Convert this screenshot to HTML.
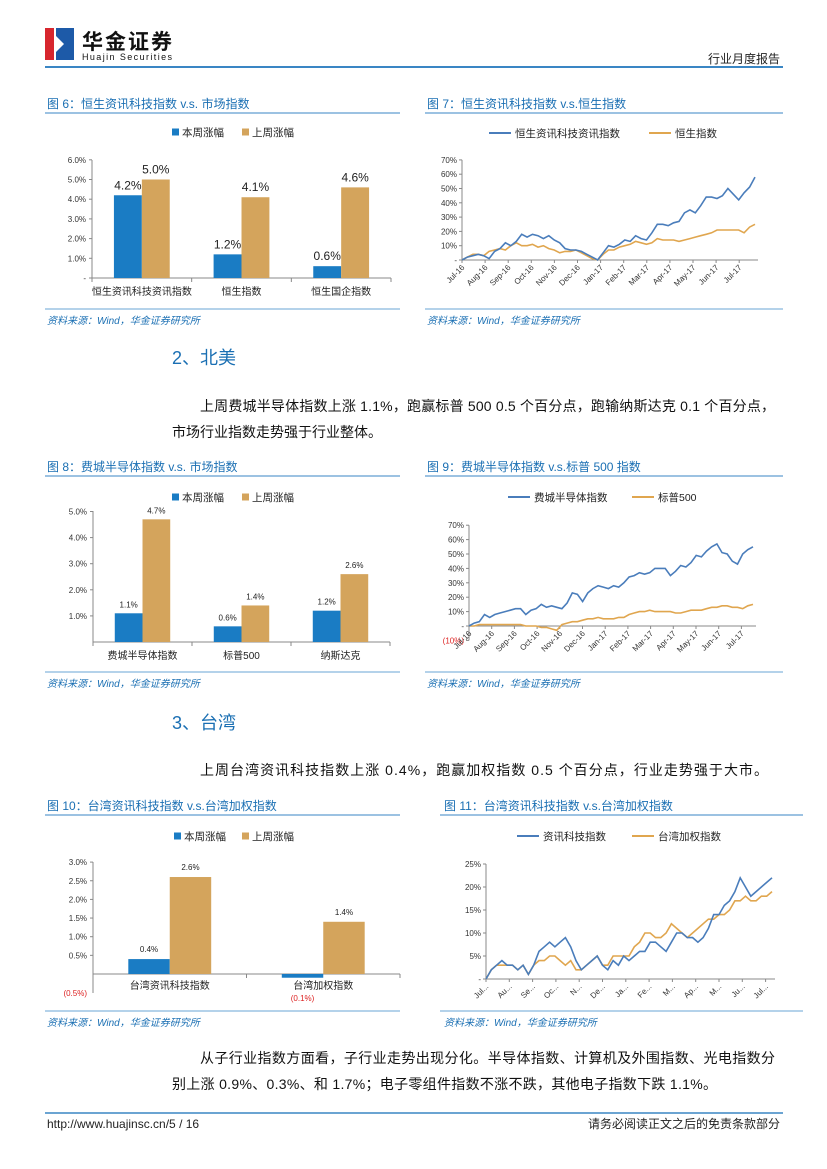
<!DOCTYPE html>
<html><head><meta charset="utf-8">
<style>
html,body{margin:0;padding:0;background:#fff;}
svg{display:block;font-family:"Liberation Sans","Noto Sans CJK SC",sans-serif;}
.ttl{fill:#1a6fb3;font-size:12px;}
.src{fill:#1a6fb3;font-size:10px;font-style:italic;}
.tk{fill:#333;font-size:8px;}
.body{fill:#111;font-size:14px;}
.h2{fill:#1a6fb3;font-size:18px;}
</style></head>
<body>
<svg id="pg" width="827" height="1169" viewBox="0 0 827 1169" xmlns="http://www.w3.org/2000/svg">
<g>
  <rect x="45" y="28" width="9" height="32" fill="#d7262e"/>
  <rect x="56" y="28" width="18" height="32" fill="#1d5aa8"/>
  <path d="M56 36 L64 44 L56 52 Z" fill="#fff"/>
  <text x="82" y="49" font-size="21" font-weight="bold" fill="#111" textLength="90">华金证券</text>
  <text x="82" y="60" font-size="9" fill="#111" textLength="90">Huajin Securities</text>
  <text x="780" y="63" font-size="12" fill="#222" text-anchor="end">行业月度报告</text>
  <rect x="45" y="66" width="738" height="2" fill="#3a86c4"/>
</g>

<text class="ttl" x="47" y="108">图 6：恒生资讯科技指数 v.s. 市场指数</text>
<line x1="45" y1="113" x2="400" y2="113" stroke="#3a86c4"/>
<text class="ttl" x="427" y="108">图 7：恒生资讯科技指数 v.s.恒生指数</text>
<line x1="425" y1="113" x2="783" y2="113" stroke="#3a86c4"/>
<line x1="45" y1="309" x2="400" y2="309" stroke="#6aa6d6"/>
<line x1="425" y1="309" x2="783" y2="309" stroke="#6aa6d6"/>
<text class="src" x="47" y="324">资料来源：Wind，华金证券研究所</text>
<text class="src" x="427" y="324">资料来源：Wind，华金证券研究所</text>

<text class="h2" x="172" y="364">2、北美</text>
<text class="body" x="200" y="411" textLength="575">上周费城半导体指数上涨 1.1%，跑赢标普 500 0.5 个百分点，跑输纳斯达克 0.1 个百分点，</text>
<text class="body" x="172" y="437">市场行业指数走势强于行业整体。</text>

<text class="ttl" x="47" y="471">图 8：费城半导体指数  v.s. 市场指数</text>
<line x1="45" y1="476" x2="400" y2="476" stroke="#3a86c4"/>
<text class="ttl" x="427" y="471">图 9：费城半导体指数 v.s.标普 500 指数</text>
<line x1="425" y1="476" x2="783" y2="476" stroke="#3a86c4"/>
<line x1="45" y1="672" x2="400" y2="672" stroke="#6aa6d6"/>
<line x1="425" y1="672" x2="783" y2="672" stroke="#6aa6d6"/>
<text class="src" x="47" y="687">资料来源：Wind，华金证券研究所</text>
<text class="src" x="427" y="687">资料来源：Wind，华金证券研究所</text>

<text class="h2" x="172" y="729">3、台湾</text>
<text class="body" x="200" y="775" textLength="568">上周台湾资讯科技指数上涨 0.4%，跑赢加权指数 0.5 个百分点，行业走势强于大市。</text>

<text class="ttl" x="47" y="810">图 10：台湾资讯科技指数 v.s.台湾加权指数</text>
<line x1="45" y1="815" x2="400" y2="815" stroke="#3a86c4"/>
<text class="ttl" x="444" y="810">图 11：台湾资讯科技指数 v.s.台湾加权指数</text>
<line x1="440" y1="815" x2="803" y2="815" stroke="#3a86c4"/>
<line x1="45" y1="1011" x2="400" y2="1011" stroke="#6aa6d6"/>
<line x1="440" y1="1011" x2="803" y2="1011" stroke="#6aa6d6"/>
<text class="src" x="47" y="1026">资料来源：Wind，华金证券研究所</text>
<text class="src" x="444" y="1026">资料来源：Wind，华金证券研究所</text>

<text class="body" x="200" y="1063" textLength="575">从子行业指数方面看，子行业走势出现分化。半导体指数、计算机及外围指数、光电指数分</text>
<text class="body" x="172" y="1089" textLength="545">别上涨 0.9%、0.3%、和 1.7%；电子零组件指数不涨不跌，其他电子指数下跌 1.1%。</text>

<line x1="45" y1="1113" x2="783" y2="1113" stroke="#3a86c4" stroke-width="1.5"/>
<text x="47" y="1128" font-size="12" fill="#222">http://www.huajinsc.cn/5 / 16</text>
<text x="780" y="1128" font-size="12" fill="#222" text-anchor="end">请务必阅读正文之后的免责条款部分</text>
</svg>

<script>
// ---- Fig 6 data
const f6Cats = ["恒生资讯科技资讯指数", "恒生指数", "恒生国企指数"];
const f6This = [4.2, 1.2, 0.6];
const f6Last = [5.0, 4.1, 4.6];
const f6Ticks = [0, 1, 2, 3, 4, 5, 6];
const f6TickLabels = ["-", "1.0%", "2.0%", "3.0%", "4.0%", "5.0%", "6.0%"];
// ---- Fig 8 data
const f8Cats = ["费城半导体指数", "标普500", "纳斯达克"];
const f8This = [1.1, 0.6, 1.2];
const f8Last = [4.7, 1.4, 2.6];
const f8Ticks = [1, 2, 3, 4, 5];
const f8TickLabels = ["1.0%", "2.0%", "3.0%", "4.0%", "5.0%"];
// ---- Fig 10 data
const f10Cats = ["台湾资讯科技指数", "台湾加权指数"];
const f10This = [0.4, -0.1];
const f10Last = [2.6, 1.4];
const f10Ticks = [0.5, 1, 1.5, 2, 2.5, 3];
const f10TickLabels = ["0.5%", "1.0%", "1.5%", "2.0%", "2.5%", "3.0%"];
// ---- Fig 7 data (weekly, %)
const f7Months = ["Jul-16","Aug-16","Sep-16","Oct-16","Nov-16","Dec-16","Jan-17","Feb-17","Mar-17","Apr-17","May-17","Jun-17","Jul-17"];
const f7Blue = [0,2,3,4, 3,1,6,8,12, 10,13,18,16, 18,17,15,17, 14,12,8,7, 7,6,4,2,0, 5,10,9,11, 14,13,17,15, 14,19,25,25, 24,26,27,33, 35,33,38,44, 44,43,45,50,46, 42,47,51,58];
const f7Orange = [0,2,4,4, 3,6,7,8,7, 10,12,10,10, 11,9,10,8, 7,5,6,6, 7,5,3,1,0, 4,7,7,9, 10,11,13,12, 11,12,15,14, 14,14,13,14, 15,16,17,18, 19,21,21,21,21, 21,19,23,25];
const f7Ticks = [0,10,20,30,40,50,60,70];
const f7TickLabels = ["-","10%","20%","30%","40%","50%","60%","70%"];
// ---- Fig 9 data
const f9Months = ["Jul-16","Aug-16","Sep-16","Oct-16","Nov-16","Dec-16","Jan-17","Feb-17","Mar-17","Apr-17","May-17","Jun-17","Jul-17"];
const f9Blue = [0,2,3,8, 6,8,9,10,11, 12,12,8,11, 12,15,13,14, 13,12,16,23, 22,17,23,26,28, 27,26,28,27, 30,34,35,37, 36,37,40,40, 40,35,38,42, 41,44,49,48, 52,55,57,51,50, 45,43,50,53,55];
const f9Orange = [0,0,1,1, 1,1,1,1,1, 1,1,0,0, 0,-1,-1,-2, -3,1,2,3, 3,4,5,5,6, 5,5,5,6, 6,8,9,10, 10,11,10,10, 10,10,9,9, 10,11,11,11, 12,13,13,14,14, 13,13,12,14,15];
const f9Ticks = [-10,0,10,20,30,40,50,60,70];
const f9TickLabels = ["(10%)","-","10%","20%","30%","40%","50%","60%","70%"];
// ---- Fig 11 data
const f11Months = ["Jul...","Au...","Se...","Oc...","N...","De...","Ja...","Fe...","M...","Ap...","M...","Ju...","Jul..."];
const f11Blue = [0,2,3,4, 3,3,2,3,1, 3,6,7,8, 7,8,9,7, 4,2,3,4, 5,3,2,4,3, 5,4,5,6, 6,8,8,7, 6,8,10,10, 9,9,8,9, 11,14,14,16, 17,19,22,20,18, 19,20,21,22];
const f11Orange = [0,2,3,3, 3,3,2,3,1, 3,4,4,5, 5,4,3,4, 2,2,3,4, 5,3,3,5,5, 5,5,7,8, 10,10,9,9, 10,12,11,10, 9,10,11,12, 13,13,14,14, 15,17,17,18,17, 17,18,18,19];
const f11Ticks = [0,5,10,15,20,25];
const f11TickLabels = ["-","5%","10%","15%","20%","25%"];

const NS = "http://www.w3.org/2000/svg";
const svg = document.getElementById("pg");
const BLUE_BAR = "#1a7cc4", ORANGE_BAR = "#d4a45c";
const BLUE_LINE = "#4a7dbb", ORANGE_LINE = "#e0a64f";
function mk(tag, attrs, parent) {
  const e = document.createElementNS(NS, tag);
  for (const k in attrs) e.setAttribute(k, attrs[k]);
  (parent || svg).appendChild(e);
  return e;
}

function legend(g, y, x1, t1, x2, t2, isLine) {
  let a, b;
  if (isLine) {
    a = mk("line", {x1: x1, y1: y, x2: x1 + 22, y2: y, stroke: BLUE_LINE, "stroke-width": 2}, g);
    b = mk("line", {x1: x2, y1: y, x2: x2 + 22, y2: y, stroke: ORANGE_LINE, "stroke-width": 2}, g);
  } else {
    a = mk("rect", {x: x1, y: y - 3.5, width: 7, height: 7, fill: BLUE_BAR}, g);
    b = mk("rect", {x: x2, y: y - 3.5, width: 7, height: 7, fill: ORANGE_BAR}, g);
  }
  
  
  
  
  const off = isLine ? 26 : 10;
  const ta = mk("text", {x: x1 + off, y: y + 4, "font-size": 10.5, fill: "#222"}, g);
  ta.textContent = t1;
  
  
  const tb = mk("text", {x: x2 + off, y: y + 4, "font-size": 10.5, fill: "#222"}, g);
  tb.textContent = t2;
  
  
}

function barChart(o) {
  const g = mk("g", {});
  
  
  const yS = v => o.y0 - (v - 0) * o.unit;
  const n = o.cats.length;
  const gw = (o.x1 - o.x0) / n;
  const ax = mk("line", {x1: o.x0, y1: o.yTop, x2: o.x0, y2: o.yBot, stroke: "#888"}, g);
  
  
  const bx = mk("line", {x1: o.x0, y1: o.y0, x2: o.x1, y2: o.y0, stroke: "#888"}, g);
  
  
  o.ticks.forEach((t, i) => {
    const tl = mk("line", {x1: o.x0 - 3, y1: yS(t), x2: o.x0, y2: yS(t), stroke: "#888"}, g);
    
    
    const tx = mk("text", {x: o.x0 - 6, y: yS(t) + 3, "text-anchor": "end", class: "tk"}, g);
    tx.textContent = o.tickLabels[i];
    
    
  });
  if (o.negLabel) {
    const nl = mk("text", {x: o.x0 - 6, y: o.yBot + 3, "text-anchor": "end", class: "tk", fill: "#d22"}, g);
    nl.textContent = o.negLabel;
    nl.style.fill = "#d22";
    
    
  }
  for (let i = 0; i <= n; i++) {
    const sep = mk("line", {x1: o.x0 + gw * i, y1: o.y0, x2: o.x0 + gw * i, y2: o.y0 + 4, stroke: "#888"}, g);
    
    
  }
  const bw = gw * o.bwFrac;
  o.cats.forEach((c, i) => {
    const cx = o.x0 + gw * (i + 0.5);
    [[o.a, BLUE_BAR, cx - bw], [o.b, ORANGE_BAR, cx]].forEach((s, k) => {
      const v = s[0][i];
      const top = Math.min(yS(v), yS(0));
      const h = Math.max(1.5, Math.abs(yS(v) - yS(0)));
      const r = mk("rect", {x: s[2], y: top, width: bw, height: h, fill: s[1]}, g);
      
      
      const lab = (v < 0 ? "(" + Math.abs(v).toFixed(1) + "%)" : v.toFixed(1) + "%");
      const ly = v < 0 ? o.negValY : yS(v) - o.labGap;
      const lt = mk("text", {x: s[2] + bw / 2, y: ly, "text-anchor": "middle", "font-size": o.labSize, fill: v < 0 ? "#d22" : "#222"}, g);
      lt.textContent = lab;
      
      
    });
    const ct = mk("text", {x: cx, y: o.catY, "text-anchor": "middle", "font-size": 10, fill: "#222"}, g);
    ct.textContent = c;
    
    
  });
  legend(g, o.legY, o.legX1, "本周涨幅", o.legX2, "上周涨幅", false);
}

function lineChart(o) {
  const g = mk("g", {});
  
  
  const yS = v => o.y0 - (v - 0) * o.unit;
  const N = o.a.length;
  const xS = i => o.x0 + (o.xEnd - o.x0) * i / (N - 1);
  const ax = mk("line", {x1: o.x0, y1: yS(o.ticks[o.ticks.length - 1]), x2: o.x0, y2: yS(o.ticks[0]), stroke: "#888"}, g);
  
  
  const bx = mk("line", {x1: o.x0, y1: o.y0, x2: o.xEnd + 3, y2: o.y0, stroke: "#888"}, g);
  
  
  o.ticks.forEach((t, i) => {
    const tl = mk("line", {x1: o.x0 - 3, y1: yS(t), x2: o.x0, y2: yS(t), stroke: "#888"}, g);
    
    
    const tx = mk("text", {x: o.x0 - 5, y: yS(t) + 3, "text-anchor": "end", class: "tk"}, g);
    tx.textContent = o.tickLabels[i];
    if (t < 0) tx.style.fill = "#d22";
    
    
  });
  o.months.forEach((m, i) => {
    const x = o.x0 + o.mStep * i;
    const tl = mk("line", {x1: x, y1: o.y0, x2: x, y2: o.y0 + 3, stroke: "#888"}, g);
    
    
    const tx = mk("text", {x: x + 3, y: o.y0 + 8, "text-anchor": "end", class: "tk", transform: "rotate(-45 " + (x + 3) + " " + (o.y0 + 8) + ")"}, g);
    tx.textContent = m;
    
    
  });
  const pa = o.a.map((v, i) => (i ? "L" : "M") + xS(i).toFixed(1) + " " + yS(v).toFixed(1)).join(" ");
  const pb = o.b.map((v, i) => (i ? "L" : "M") + xS(i).toFixed(1) + " " + yS(v).toFixed(1)).join(" ");
  const lb = mk("path", {d: pb, fill: "none", stroke: ORANGE_LINE, "stroke-width": 1.6}, g);
  
  
  const la = mk("path", {d: pa, fill: "none", stroke: BLUE_LINE, "stroke-width": 1.6}, g);
  
  
  legend(g, o.legY, o.legX1, o.l1, o.legX2, o.l2, true);
}

barChart({name: "fig6-bar-chart", cats: f6Cats, a: f6This, b: f6Last, ticks: f6Ticks, tickLabels: f6TickLabels,
  x0: 92, x1: 391, y0: 278, unit: 19.7, yTop: 160, yBot: 278, bwFrac: 0.28, catY: 295, labGap: 6, labSize: 12,
  legY: 132, legX1: 172, legX2: 242});
barChart({name: "fig8-bar-chart", cats: f8Cats, a: f8This, b: f8Last, ticks: f8Ticks, tickLabels: f8TickLabels,
  x0: 93, x1: 390, y0: 642, unit: 26.1, yTop: 511, yBot: 642, bwFrac: 0.28, catY: 659, labGap: 6, labSize: 8,
  legY: 497, legX1: 172, legX2: 242});
barChart({name: "fig10-bar-chart", cats: f10Cats, a: f10This, b: f10Last, ticks: f10Ticks, tickLabels: f10TickLabels,
  x0: 93, x1: 400, y0: 974, unit: 37.3, yTop: 862, yBot: 993, bwFrac: 0.27, catY: 989, labGap: 7, labSize: 8,
  negLabel: "(0.5%)", negValY: 1001, legY: 836, legX1: 174, legX2: 242});

lineChart({name: "fig7-line-chart", a: f7Blue, b: f7Orange, months: f7Months, ticks: f7Ticks, tickLabels: f7TickLabels,
  x0: 462, xEnd: 755, mStep: 23.1, y0: 260, unit: 1.43, legY: 133, legX1: 489, legX2: 649,
  l1: "恒生资讯科技资讯指数", l2: "恒生指数"});
lineChart({name: "fig9-line-chart", a: f9Blue, b: f9Orange, months: f9Months, ticks: f9Ticks, tickLabels: f9TickLabels,
  x0: 469, xEnd: 753, mStep: 22.7, y0: 626, unit: 1.44, legY: 497, legX1: 508, legX2: 632,
  l1: "费城半导体指数", l2: "标普500"});
lineChart({name: "fig11-line-chart", a: f11Blue, b: f11Orange, months: f11Months, ticks: f11Ticks, tickLabels: f11TickLabels,
  x0: 486, xEnd: 772, mStep: 23.3, y0: 979, unit: 4.6, legY: 836, legX1: 517, legX2: 632,
  l1: "资讯科技指数", l2: "台湾加权指数"});
</script>
</body></html>
